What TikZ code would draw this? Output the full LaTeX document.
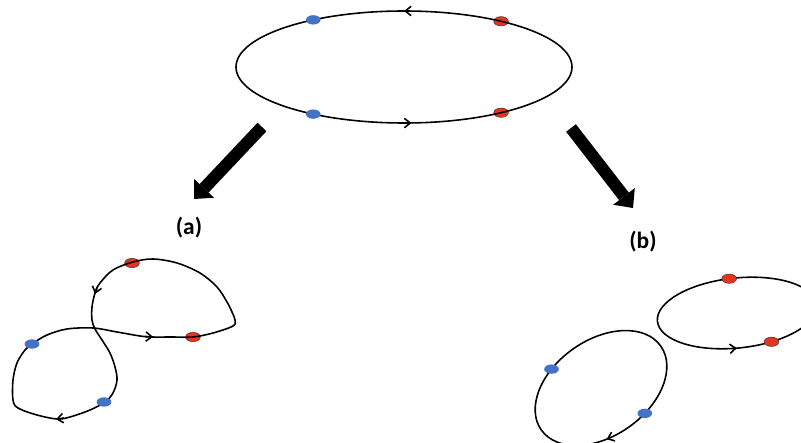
\documentclass[tikz,border=0pt]{standalone}
\usepackage{fontspec}
\newfontfamily\lblfont{Carlito}
\usetikzlibrary{math,arrows.meta,shapes.geometric,decorations.markings}

\definecolor{bleu}{HTML}{4472C4}
\definecolor{rouge}{HTML}{E8341C}

\begin{document}
\begin{tikzpicture}[x=0.03cm, y=0.03cm, >={Straight Barb[length=5pt,width=8pt]}]

	\useasboundingbox (0,0) rectangle (801,443);
	\clip (0,0) rectangle (801,443);

	\tikzmath{
		\rx = 168;   % demi-axes de la grande ellipse
		\ry = 56;
	}

	\tikzset{
		courbe/.style={draw=black, line width=1.35pt},
		ptbleu/.style={ellipse, fill=bleu, minimum width=0.44cm, minimum height=0.28cm, inner sep=0pt},
		ptrouge/.style={ptbleu, fill=rouge, draw=black!80, line width=0.4pt},
		sens/.style={postaction={decorate, decoration={markings, mark=at position #1 with {\arrow{>}}}}},
		sensinv/.style={postaction={decorate, decoration={markings, mark=at position #1 with {\arrowreversed{>}}}}},
		fleche/.style={line width=10.5pt, -{Triangle[length=0.44cm, width=0.82cm, line width=0pt]}},
		lbl/.style={font={\lblfont\bfseries\fontsize{20}{24}\selectfont}}
	}

	% Grande ellipse en haut
	\coordinate (c0) at (404,376);
	\foreach \t/\n in {54.7/r1, 305.3/r2}{
			\node[ptrouge] (\n) at ([shift={(\t:{\rx} and {\ry})}]c0) {};
		}
	\draw[courbe, sens=0.25, sens=0.76] (c0) ellipse [x radius=\rx, y radius=\ry];
	\foreach \t/\n in {122.7/b1, 237.3/b2}{
			\node[ptbleu] (\n) at ([shift={(\t:{\rx} and {\ry})}]c0) {};
		}

	% Grosses flèches
	\coordinate (fa0) at (262,316);
	\coordinate (fa1) at (194,244);
	\coordinate (fb0) at (571,315);
	\coordinate (fb1) at (633,235);
	\draw[fleche] (fa0) -- (fa1);
	\draw[fleche] (fb0) -- (fb1);

	\node[lbl] (la) at (189,215) {(a)};
	\node[lbl] (lb) at (643,201) {(b)};

	% (a) : courbe en huit
	\node[ptrouge] (ar1) at (132,180) {};
	\node[ptrouge] (ar2) at (193,106) {};
	\draw[courbe] plot[smooth cycle, tension=0.55] coordinates {
			(133,181) (113,173) (100,160) (95,150) (92,136) (92,123) (95,114)
			(102,103) (110,90) (115,76) (117,63) (113,50) (105,41) (90,33)
			(70,26) (57,24) (37,28) (18,35) (13,43) (13,63) (17,80) (25,93)
			(32,99) (47,108) (67,114) (93,115) (117,111) (140,107) (152,106)
			(173,106) (193,106) (213,110) (233,117) (235,123) (232,131)
			(227,141) (217,156) (200,170) (177,180) (153,184)
		};
	\draw[courbe, ->] (97,156) -- (95,149);
	\draw[courbe, ->] (64,25) -- (56,23.8);
	\draw[courbe, ->] (145,106.5) -- (153,106.2);
	\node[ptbleu] (ab1) at (32,99) {};
	\node[ptbleu] (ab2) at (104,41) {};

	% (b) : deux ellipses séparées
	\begin{scope}[shift={(737,130)}, rotate=6]
		\draw[courbe, sens=0.74] (0,0) ellipse [x radius=80, y radius=35];
		\node[ptrouge] (br1) at (93:80 and 35) {};
		\node[ptrouge] (br2) at (-67:80 and 35) {};
	\end{scope}

	\begin{scope}[shift={(601,55)}, rotate=35]
		\draw[courbe, sensinv=0.685] (0,0) ellipse [x radius=73, y radius=48];
		\node[ptbleu] (bb1) at (114:73 and 48) {};
		\node[ptbleu] (bb2) at (287:73 and 48) {};
	\end{scope}

\end{tikzpicture}
\end{document}
